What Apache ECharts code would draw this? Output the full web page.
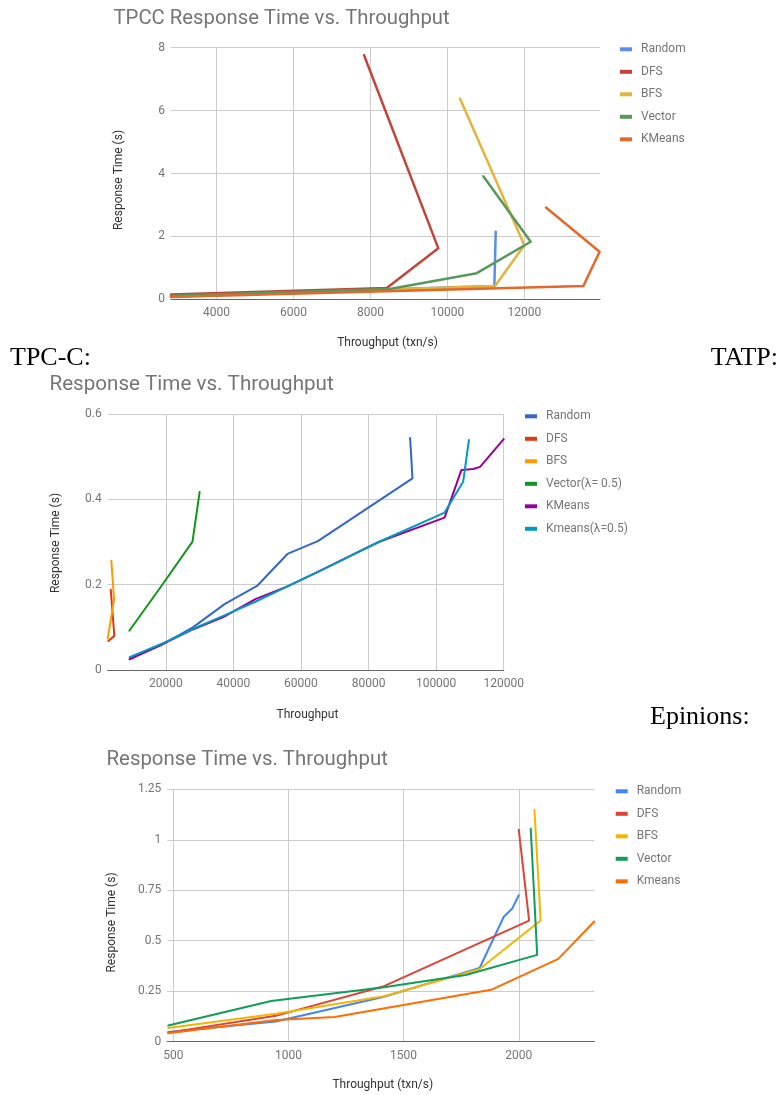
<!DOCTYPE html>
<html>
<head>
<meta charset="utf-8">
<script src="https://cdn.jsdelivr.net/npm/echarts@6/dist/echarts.min.js"></script>
<style>
html,body{margin:0;padding:0;background:#ffffff;}
.box{position:absolute;left:0;width:780px;}
</style>
</head>
<body>
<div id="c1" class="box" style="top:0px;height:372px"></div>
<div id="c2" class="box" style="top:372px;height:360px"></div>
<div id="c3" class="box" style="top:732px;height:363px"></div>
<script>
// ---------- Chart 1 : TPCC ----------
const tpccNames = ['Random', 'DFS', 'BFS', 'Vector', 'KMeans'];
const tpccRandom = [[2820, 0.10], [11220, 0.42], [11256, 2.15]];
const tpccDFS = [[2820, 0.15], [8425, 0.36], [9765, 1.62], [7836, 7.76]];
const tpccBFS = [[2820, 0.09], [11238, 0.42], [12000, 1.72], [10329, 6.38]];
const tpccVector = [[2820, 0.11], [8500, 0.33], [10763, 0.83], [12165, 1.83], [10934, 3.91]];
const tpccKMeans = [[2820, 0.07], [13531, 0.42], [13955, 1.51], [12562, 2.92]];
const tpccXRange = [2820, 13965];
const tpccYRange = [0, 8];
const tpccYStep = 2;

// ---------- Chart 2 : TATP ----------
const tatpNames = ['Random', 'DFS', 'BFS', 'Vector(λ= 0.5)', 'KMeans', 'Kmeans(λ=0.5)'];
const tatpRandom = [[9300, 0.026], [18500, 0.058], [28000, 0.100], [37500, 0.155], [47000, 0.197], [56000, 0.272], [65000, 0.302], [93000, 0.449], [92300, 0.544]];
const tatpDFS = [[2990, 0.068], [4770, 0.080], [3700, 0.188]];
const tatpBFS = [[2810, 0.074], [4680, 0.165], [3880, 0.256]];
const tatpVector = [[9200, 0.092], [18800, 0.198], [27900, 0.301], [30000, 0.417]];
const tatpKMeans = [[9300, 0.025], [19000, 0.061], [28000, 0.095], [37000, 0.124], [46500, 0.166], [56000, 0.196], [65000, 0.230], [74000, 0.265], [83000, 0.300], [102500, 0.357], [107500, 0.469], [111000, 0.471], [113000, 0.476], [120000, 0.541]];
const tatpKmeansL = [[9300, 0.030], [19000, 0.062], [28000, 0.096], [37000, 0.127], [46500, 0.160], [56000, 0.196], [65000, 0.230], [74000, 0.265], [83000, 0.300], [102500, 0.369], [108000, 0.441], [109700, 0.539]];
const tatpXRange = [2800, 120000];
const tatpYRange = [0, 0.6];
const tatpYStep = 0.2;

// ---------- Chart 3 : Epinions ----------
const epNames = ['Random', 'DFS', 'BFS', 'Vector', 'Kmeans'];
const epRandom = [[478, 0.048], [945, 0.100], [1415, 0.223], [1830, 0.365], [1935, 0.619], [1972, 0.660], [2000, 0.725]];
const epDFS = [[478, 0.045], [945, 0.128], [1415, 0.275], [2045, 0.600], [2000, 1.050]];
const epBFS = [[478, 0.068], [945, 0.138], [1415, 0.225], [1830, 0.360], [2095, 0.600], [2068, 1.148]];
const epVector = [[478, 0.080], [925, 0.202], [1415, 0.270], [1770, 0.330], [2080, 0.430], [2052, 1.055]];
const epKmeans = [[478, 0.042], [945, 0.108], [1200, 0.122], [1880, 0.257], [2172, 0.410], [2328, 0.595]];
const epXRange = [474, 2328];
const epYRange = [0, 1.25];
const epYStep = 0.25;

// ---------- helpers ----------
const FONT = 'Roboto';
const GRAY = '#757575';

function xAxis(range, splitNumber, showMax) {
  return {
    type: 'value', min: range[0], max: range[1], splitNumber: splitNumber,
    axisLine: { show: true, onZero: false, lineStyle: { color: '#666666', width: 1.2 } },
    axisTick: { show: false },
    axisLabel: { showMinLabel: false, showMaxLabel: showMax, color: GRAY, fontSize: 12, fontFamily: FONT, margin: 8,
      formatter: function (v) { return String(v); } },
    splitLine: { show: true, showMinLine: false, showMaxLine: showMax, lineStyle: { color: '#cccccc', width: 1 } }
  };
}
function yAxis(range, step) {
  return {
    type: 'value', min: range[0], max: range[1], interval: step,
    axisLine: { show: false }, axisTick: { show: false },
    axisLabel: { color: GRAY, fontSize: 12, fontFamily: FONT, margin: 6 },
    splitLine: { show: true, lineStyle: { color: '#cccccc', width: 1 } }
  };
}
function lineSeries(name, data, color, width) {
  return {
    type: 'line', name: name, data: data, symbol: 'none', showSymbol: false,
    lineStyle: { color: color, width: width, join: 'round', cap: 'round' },
    itemStyle: { color: color }, silent: true, animation: false
  };
}
function legend(names, left, top) {
  return {
    orient: 'vertical', left: left, top: top, padding: 0, icon: 'rect',
    itemWidth: 12, itemHeight: 4, itemGap: 8.5, selectedMode: false,
    textStyle: { color: GRAY, fontSize: 12, fontFamily: FONT, lineHeight: 14, padding: [0, 0, 0, 4] },
    data: names
  };
}
function title(text, left, top, size) {
  return { text: text, left: left, top: top, padding: 0,
    textStyle: { color: GRAY, fontSize: size, fontWeight: 'normal', fontFamily: FONT } };
}
function gtext(text, x, y, opts) {
  opts = opts || {};
  return {
    type: 'text', x: x, y: y, rotation: opts.rot || 0, silent: true,
    style: { text: text, fill: opts.color || '#333333',
      font: opts.font || ('12px ' + FONT), align: opts.align || 'center', verticalAlign: 'middle' }
  };
}

// ---------- chart 1 ----------
const c1Colors = ['#5b8ced', '#c1453a', '#e4b43a', '#58995b', '#e3692a'];
const c1Data = [tpccRandom, tpccDFS, tpccBFS, tpccVector, tpccKMeans];
const ch1 = echarts.init(document.getElementById('c1'));
ch1.setOption({
  animation: false,
  title: title('TPCC Response Time vs. Throughput', 113.5, 8.5, 20.3),
  legend: legend(tpccNames, 620, 42.3),
  grid: { left: 171, top: 47.7, width: 429, height: 251.6, containLabel: false, outerBoundsMode: 'none' },
  xAxis: xAxis(tpccXRange, 5, false),
  yAxis: yAxis(tpccYRange, tpccYStep),
  series: tpccNames.map(function (n, i) { return lineSeries(n, c1Data[i], c1Colors[i], 2.5); }),
  graphic: [
    gtext('Throughput (txn/s)', 387.5, 343),
    gtext('Response Time (s)', 119.3, 180, { rot: Math.PI / 2 }),
    gtext('TPC-C:', 10, 358, { align: 'left', color: '#000000', font: '26px "Liberation Serif"' }),
    gtext('TATP:', 778, 358, { align: 'right', color: '#000000', font: '26px "Liberation Serif"' })
  ]
});

// ---------- chart 2 ----------
const c2Colors = ['#3366cc', '#dc3912', '#ff9900', '#109618', '#990099', '#0099c6'];
const c2Data = [tatpRandom, tatpDFS, tatpBFS, tatpVector, tatpKMeans, tatpKmeansL];
const ch2 = echarts.init(document.getElementById('c2'));
ch2.setOption({
  animation: false,
  title: title('Response Time vs. Throughput', 49.5, 2.5, 20.6),
  legend: legend(tatpNames, 525, 37.3),
  grid: { left: 107.7, top: 42, width: 396, height: 256, containLabel: false, outerBoundsMode: 'none' },
  xAxis: xAxis(tatpXRange, 6, true),
  yAxis: yAxis(tatpYRange, tatpYStep),
  series: tatpNames.map(function (n, i) { return lineSeries(n, c2Data[i], c2Colors[i], 2); }),
  graphic: [
    gtext('Throughput', 307.5, 343),
    gtext('Response Time (s)', 55.7, 171, { rot: Math.PI / 2 }),
    gtext('Epinions:', 650, 345, { align: 'left', color: '#000000', font: '26px "Liberation Serif"' })
  ]
});

// ---------- chart 3 ----------
const c3Colors = ['#4285f4', '#db4437', '#f4b400', '#0f9d58', '#ff6d01'];
const c3Data = [epRandom, epDFS, epBFS, epVector, epKmeans];
const ch3 = echarts.init(document.getElementById('c3'));
ch3.setOption({
  animation: false,
  title: title('Response Time vs. Throughput', 106.5, 18, 20.4),
  legend: legend(epNames, 615.7, 52.3),
  grid: { left: 167.3, top: 57.3, width: 427, height: 252.4, containLabel: false, outerBoundsMode: 'none' },
  xAxis: xAxis(epXRange, 4, false),
  yAxis: yAxis(epYRange, epYStep),
  series: epNames.map(function (n, i) { return lineSeries(n, c3Data[i], c3Colors[i], 2); }),
  graphic: [
    gtext('Throughput (txn/s)', 382.8, 353),
    gtext('Response Time (s)', 112.3, 190.5, { rot: Math.PI / 2 })
  ]
});
</script>
</body>
</html>
